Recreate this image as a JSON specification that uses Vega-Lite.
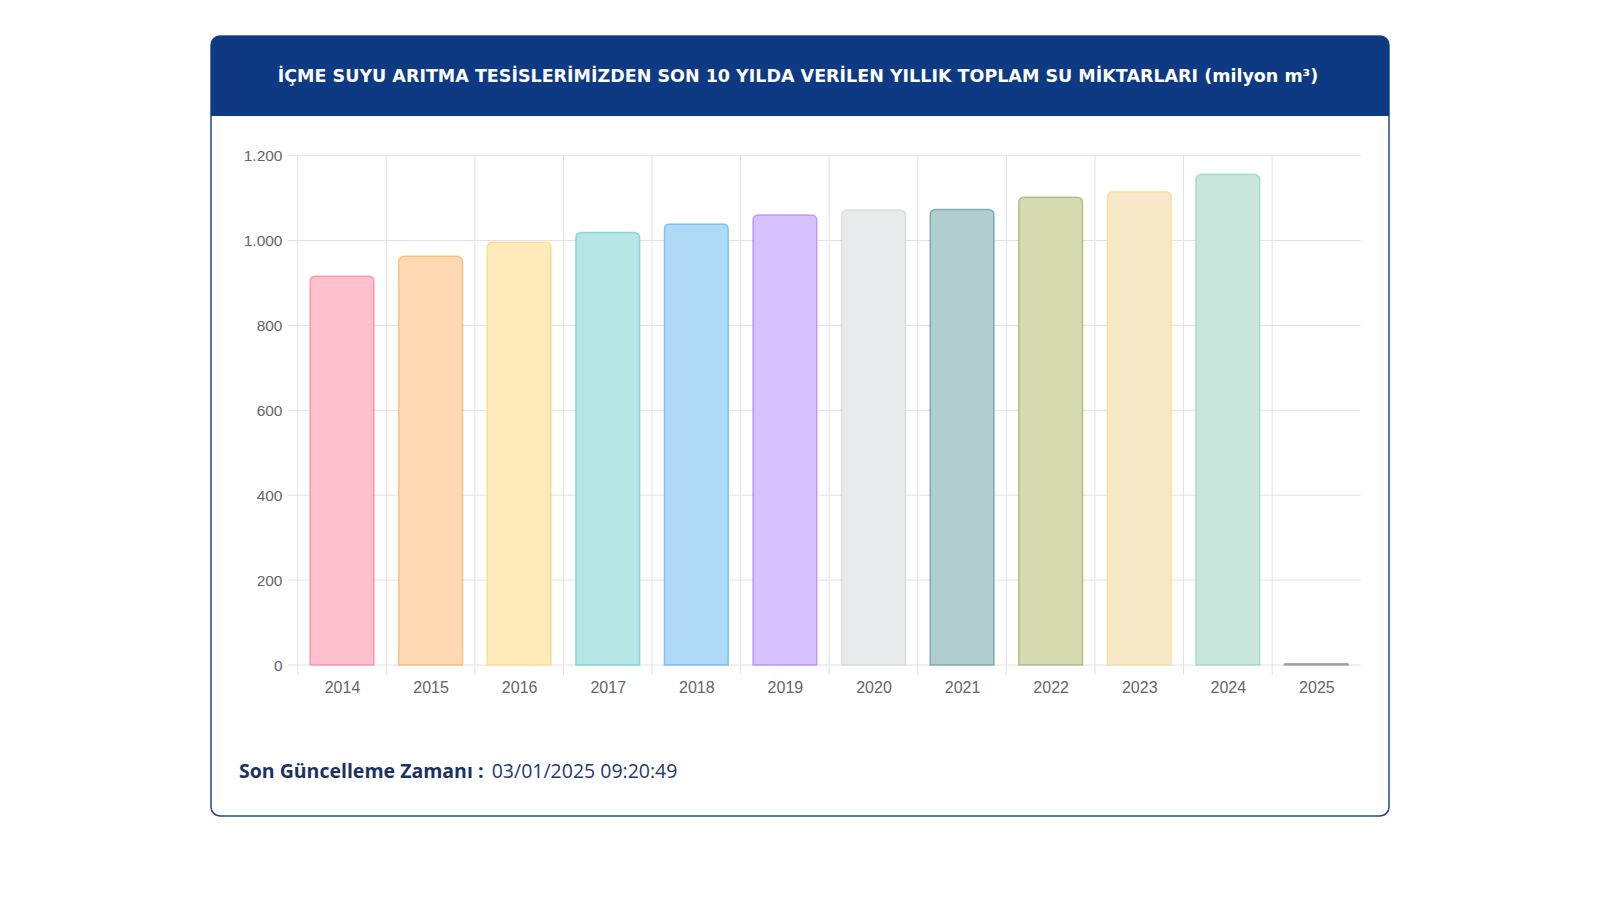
{
  "$schema": "https://vega.github.io/schema/vega-lite/v6.json",
  "width": 1178,
  "height": 780,
  "autosize": {"type": "none"},
  "padding": {"left": 211, "top": 36, "right": 211, "bottom": 84},
  "background": "white",
  "config": {
    "view": {"stroke": "#1f4b8f", "strokeWidth": 1.5, "cornerRadius": 9, "fill": "white"},
    "font": "Liberation Sans"
  },
  "datasets": {
    "bars": [
      {"year": 2014, "value": 916},
      {"year": 2015, "value": 963},
      {"year": 2016, "value": 996},
      {"year": 2017, "value": 1019},
      {"year": 2018, "value": 1039},
      {"year": 2019, "value": 1060},
      {"year": 2020, "value": 1072},
      {"year": 2021, "value": 1073},
      {"year": 2022, "value": 1102},
      {"year": 2023, "value": 1115},
      {"year": 2024, "value": 1156},
      {"year": 2025, "value": 3}
    ],
    "ygrid": [{"v": 0}, {"v": 200}, {"v": 400}, {"v": 600}, {"v": 800}, {"v": 1000}, {"v": 1200}],
    "header": [{"label": "İÇME SUYU ARITMA TESİSLERİMİZDEN SON 10 YILDA VERİLEN YILLIK TOPLAM SU MİKTARLARI (milyon m³)"}],
    "footer": [{"key": "Son Güncelleme Zamanı :", "stamp": "03/01/2025 09:20:49"}]
  },
  "layer": [
    {
      "data": {"name": "header"},
      "mark": {"type": "rect", "color": "#0e3a84", "cornerRadiusTopLeft": 9, "cornerRadiusTopRight": 9},
      "encoding": {
        "x": {"datum": 2012.5212, "type": "quantitative", "scale": {"domain": [2012.5212, 2025.8195], "nice": false, "zero": false, "padding": 0}},
        "x2": {"datum": 2025.8195},
        "y": {"datum": 1293.3, "type": "quantitative", "scale": {"domain": [-355.7, 1481.7], "nice": false, "zero": false, "padding": 0}},
        "y2": {"datum": 1481.7}
      }
    },
    {
      "data": {"name": "header"},
      "mark": {"type": "text", "color": "white", "font": "DejaVu Sans", "fontWeight": "bold", "fontSize": 17.5, "align": "center", "baseline": "alphabetic"},
      "encoding": {
        "x": {"datum": 2019.148, "type": "quantitative"},
        "y": {"datum": 1373.5, "type": "quantitative"},
        "text": {"field": "label", "type": "nominal"}
      }
    },
    {
      "data": {"name": "ygrid"},
      "mark": {"type": "rule", "color": "#e3e3e3", "strokeWidth": 1},
      "encoding": {
        "x": {"datum": 2013.387, "type": "quantitative"},
        "x2": {"datum": 2025.5},
        "y": {"field": "v", "type": "quantitative", "title": null}
      }
    },
    {
      "data": {"name": "bars"},
      "mark": {"type": "rule", "color": "#e3e3e3", "strokeWidth": 1, "xOffset": -44.29},
      "encoding": {
        "x": {"field": "year", "type": "quantitative", "title": null},
        "y": {"datum": -23.6, "type": "quantitative"},
        "y2": {"datum": 1200}
      }
    },
    {
      "data": {"name": "bars"},
      "mark": {"type": "bar", "width": 63.8, "strokeWidth": 1.5, "strokeOpacity": 0.55, "cornerRadiusTopLeft": 5, "cornerRadiusTopRight": 5},
      "encoding": {
        "x": {
          "field": "year", "type": "quantitative", "title": null,
          "axis": {"values": [2014, 2015, 2016, 2017, 2018, 2019, 2020, 2021, 2022, 2023, 2024, 2025], "offset": -151, "domain": false, "ticks": false, "grid": false, "labelPadding": 14, "labelFontSize": 16, "labelColor": "#666666", "labelFont": "Liberation Sans", "format": "d", "labelFlush": false, "labelOverlap": false, "title": null}
        },
        "y": {
          "field": "value", "type": "quantitative", "title": null,
          "axis": {"values": [0, 200, 400, 600, 800, 1000, 1200], "offset": -87, "domain": false, "ticks": false, "grid": false, "labelPadding": 16, "labelFontSize": 15.5, "labelColor": "#666666", "labelFont": "Liberation Sans", "labelExpr": "replace(format(datum.value, ','), ',', '.')", "labelFlush": false, "labelOverlap": false, "title": null}
        },
        "y2": {"datum": 0},
        "fill": {
          "field": "year", "type": "ordinal", "legend": null,
          "scale": {"domain": [2014, 2015, 2016, 2017, 2018, 2019, 2020, 2021, 2022, 2023, 2024, 2025],
                    "range": ["#ffc1ce", "#ffd9b3", "#ffebbb", "#b7e6e6", "#afdaf7", "#d6c2ff", "#e9eaec", "#b1cdd0", "#d6dab0", "#f7e9c7", "#c9e6dd", "#d9d9e6"]}
        },
        "stroke": {
          "field": "year", "type": "ordinal", "legend": null,
          "scale": {"domain": [2014, 2015, 2016, 2017, 2018, 2019, 2020, 2021, 2022, 2023, 2024, 2025],
                    "range": ["#ff6384", "#ff9f40", "#ffcd56", "#4bc0c0", "#36a2eb", "#9966ff", "#c9cbcf", "#3c828a", "#8e9a45", "#ebd773", "#78cfb4", "#6a6a90"]}
        }
      }
    },
    {
      "data": {"name": "footer"},
      "mark": {"type": "text", "color": "#1b3263", "font": "Open Sans", "fontWeight": "bold", "fontSize": 19.5, "align": "left", "baseline": "alphabetic"},
      "encoding": {
        "x": {"datum": 2012.837, "type": "quantitative"},
        "y": {"datum": -266.9, "type": "quantitative"},
        "text": {"field": "key", "type": "nominal"}
      }
    },
    {
      "data": {"name": "footer"},
      "mark": {"type": "text", "color": "#1e3a6e", "font": "Open Sans", "fontSize": 19.5, "align": "left", "baseline": "alphabetic"},
      "encoding": {
        "x": {"datum": 2015.69, "type": "quantitative"},
        "y": {"datum": -266.9, "type": "quantitative"},
        "text": {"field": "stamp", "type": "nominal"}
      }
    }
  ]
}
